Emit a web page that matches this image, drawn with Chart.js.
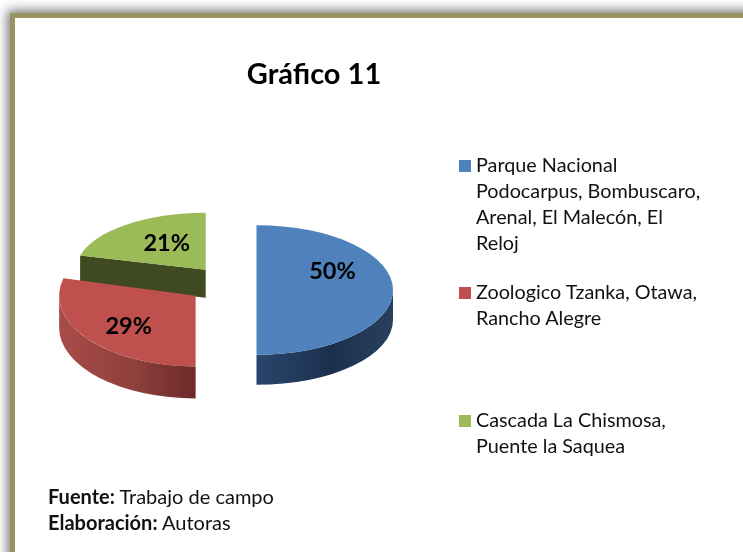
<!DOCTYPE html>
<html lang="es">
<head>
<meta charset="utf-8">
<title>Gráfico 11</title>
<script src="https://cdn.jsdelivr.net/npm/chart.js@4"></script>
<style>
  html, body { margin: 0; padding: 0; width: 743px; height: 552px; overflow: hidden; background: #fff; }
  body { font-family: Lato, "Open Sans", sans-serif; color: #111; position: relative; }
  #shade { position: absolute; left: 0; top: 0; width: 743px; height: 552px; overflow: hidden; background: #fff; }
  #frame { position: absolute; left: 10px; top: 13px; width: 900px; height: 800px; box-sizing: border-box;
           border: 5px solid #9a9360; background: #fff; box-shadow: 0 0 10px 3px rgba(70,70,70,.7); }
  canvas { position: absolute; left: 0; top: 0; }
  .lg { position: absolute; left: 459px; font-size: 19.8px; line-height: 26px; padding-left: 17px; white-space: nowrap; }
  .lg i { position: absolute; left: 0; top: 9px; width: 12px; height: 12px; }
  #note { position: absolute; left: 48px; top: 483px; font-size: 20px; line-height: 26px; white-space: nowrap; }
</style>
</head>
<body>
<div id="shade"><div id="frame"></div></div>
<canvas id="c" width="628" height="552"></canvas>
<div id="legend"></div>
<div id="note"><b>Fuente:</b> Trabajo de campo<br><b>Elaboración:</b> Autoras</div>
<script>
const chartTitle = "Gráfico 11";
const categoryLines = [
  ["Parque Nacional", "Podocarpus, Bombuscaro,", "Arenal, El Malecón, El", "Reloj"],
  ["Zoologico Tzanka, Otawa,", "Rancho Alegre"],
  ["Cascada La Chismosa,", "Puente la Saquea"]
];
const seriesValues = [50, 29, 21];
const sliceColors = ["#4f81bd", "#c0504d", "#9bbb59"];

// Appearance of the tilted, exploded pie (styling only, not data)
const tilt = { centerX: 222.5, centerY: 290, squash: 0.475, explode: 34 };
const sliceView = [
  { sx: 1.00, sy: 1.00, dx: 0, dy: 0,  depth: 30, labelX: 76,  labelY: -19 },
  { sx: 1.00, sy: 1.09, dx: 0, dy: -5, depth: 32, labelX: -67, labelY: 31 },
  { sx: 0.95, sy: 0.88, dx: 3, dy: -9, depth: 28, labelX: -39, labelY: -26 }
];
const legendTops = [151, 278, 406];
const sideStops = [
  ["#2a466c", "#1b304e", "#28405f"],
  ["#a84c49", "#8f3f3c", "#6c2b2a"],
  ["#3f4a20", "#3f4a20", "#3f4a20"]
];

function geometry(arc, i) {
  const v = sliceView[i];
  const p = arc.getProps(["x", "y", "startAngle", "endAngle", "outerRadius"], true);
  const mid = (p.startAngle + p.endAngle) / 2;
  const ax = tilt.centerX + v.dx + v.sx * Math.cos(mid) * tilt.explode;
  const ay = tilt.centerY + v.dy + tilt.squash * v.sy * Math.sin(mid) * tilt.explode;
  return { p, v, ax, ay, rx: p.outerRadius * v.sx, ry: p.outerRadius * tilt.squash * v.sy };
}

function drawSides(ctx, arc, i) {
  const { p, v, ax, ay, rx, ry } = geometry(arc, i);
  const s = sideStops[i];
  const a0 = Math.max(p.startAngle, 0), a1 = Math.min(p.endAngle, Math.PI);
  // faces left by the cut, visible when they look down toward the viewer
  const ex = ax + rx * Math.cos(p.startAngle), ey = ay + ry * Math.sin(p.startAngle);
  if (i === 2) {
    ctx.fillStyle = s[0];
    ctx.beginPath();
    ctx.moveTo(ex, ey); ctx.lineTo(ax, ay); ctx.lineTo(ax, ay + v.depth); ctx.lineTo(ex, ey + v.depth);
    ctx.closePath(); ctx.fill();
  }
  if (a1 > a0) {
    const x0 = ax + rx * Math.cos(a0), x1 = ax + rx * Math.cos(a1);
    const g = ctx.createLinearGradient(Math.min(x0, x1), 0, Math.max(x0, x1), 0);
    g.addColorStop(0, s[0]); g.addColorStop(0.55, s[1]); g.addColorStop(1, s[2]);
    ctx.fillStyle = g;
    ctx.beginPath();
    ctx.ellipse(ax, ay, rx, ry, 0, a0, a1);
    ctx.ellipse(ax, ay + v.depth, rx, ry, 0, a1, a0, true);
    ctx.closePath(); ctx.fill();
  }
}

const tiltedPie = {
  id: "tiltedPie",
  beforeDatasetsDraw(chart) {
    const ctx = chart.ctx, arcs = chart.getDatasetMeta(0).data;
    [2, 1, 0].forEach(i => {
      const arc = arcs[i], { p, v, ax, ay } = geometry(arc, i);
      ctx.save();
      drawSides(ctx, arc, i);
      ctx.translate(ax, ay);
      ctx.scale(v.sx, tilt.squash * v.sy);
      ctx.translate(-p.x, -p.y);
      arc.draw(ctx);
      ctx.restore();
    });
    return false;
  },
  afterDraw(chart) {
    const ctx = chart.ctx, arcs = chart.getDatasetMeta(0).data;
    const total = seriesValues.reduce((a, b) => a + b, 0);
    ctx.save();
    ctx.font = "bold 23.5px Lato, 'Open Sans', sans-serif";
    ctx.fillStyle = "#000";
    ctx.textAlign = "center";
    ctx.textBaseline = "middle";
    seriesValues.forEach((val, i) => {
      const { v, ax, ay } = geometry(arcs[i], i);
      ctx.fillText(Math.round(val / total * 100) + "%", ax + v.labelX, ay + v.labelY);
    });
    ctx.restore();
  }
};

new Chart(document.getElementById("c"), {
  type: "pie",
  data: {
    labels: categoryLines.map(l => l.join(" ")),
    datasets: [{ data: seriesValues, backgroundColor: sliceColors, borderWidth: 0 }]
  },
  options: {
    responsive: false,
    animation: false,
    radius: 136.5,
    events: [],
    plugins: {
      legend: { display: false },
      tooltip: { enabled: false },
      title: {
        display: true, text: chartTitle, color: "#000",
        font: { family: "Lato, 'Open Sans', sans-serif", size: 29, weight: "bold" },
        padding: { top: 57, bottom: 20 }
      }
    }
  },
  plugins: [tiltedPie]
});

const legend = document.getElementById("legend");
categoryLines.forEach((lines, i) => {
  const d = document.createElement("div");
  d.className = "lg";
  d.style.top = legendTops[i] + "px";
  const sw = document.createElement("i");
  sw.style.background = sliceColors[i];
  d.appendChild(sw);
  lines.forEach((t, j) => {
    if (j) d.appendChild(document.createElement("br"));
    d.appendChild(document.createTextNode(t));
  });
  legend.appendChild(d);
});
</script>
</body>
</html>
